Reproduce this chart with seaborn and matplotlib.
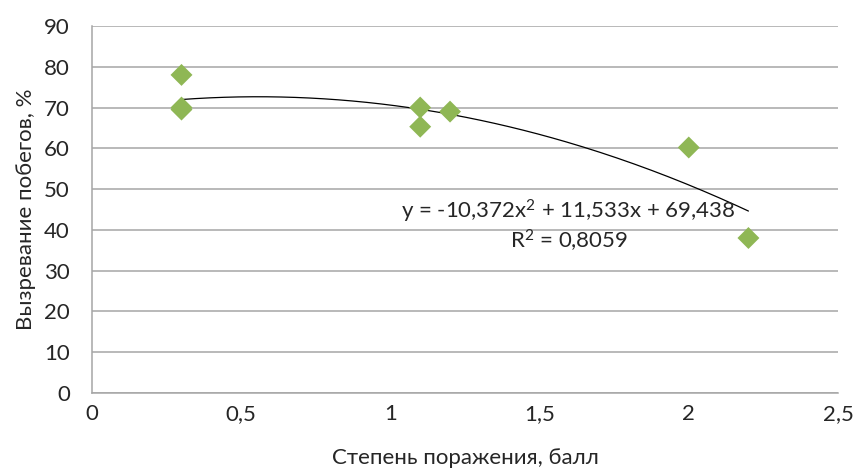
import numpy as np
import pandas as pd
import matplotlib
matplotlib.use('Agg')
import matplotlib.pyplot as plt
from matplotlib.ticker import FuncFormatter, MultipleLocator
import seaborn as sns

# data
damage = [0.3, 0.3, 0.3, 1.1, 1.1, 1.2, 2.0, 2.2]
ripening = [78.0, 69.5, 70.0, 70.0, 65.3, 69.0, 60.2, 38.0]
trend_coef = [-10.372, 11.533, 69.438]
trend_text = 'y = -10,372x$^2$ + 11,533x + 69,438'
r2_text = 'R$^2$ = 0,8059'

df = pd.DataFrame({'damage': damage, 'ripening': ripening})

sns.set_theme(style='white')
plt.rcParams['font.family'] = ['Lato', 'Noto Sans', 'DejaVu Sans']
plt.rcParams['mathtext.default'] = 'regular'

fig = plt.figure(figsize=(8.54, 4.70), dpi=100)
ax = fig.add_axes([0.1077, 0.164, 0.8735, 0.7807])

ax.yaxis.grid(True, color='#a6a6a6', linewidth=1.1)
ax.set_axisbelow(True)

xs = np.linspace(min(damage), max(damage), 200)
ax.plot(xs, np.polyval(trend_coef, xs), color='black', linewidth=0.9, zorder=2)

sns.scatterplot(data=df, x='damage', y='ripening', marker='D', s=125,
                color='#8fb755', edgecolor='none', ax=ax, zorder=3)

ax.text(1.595, 44.6, trend_text, ha='center', va='center', fontsize=16, color='#262626')
ax.text(1.598, 37.3, r2_text, ha='center', va='center', fontsize=16, color='#262626')

ax.set_xlim(0, 2.5)
ax.set_ylim(0, 90)
ax.xaxis.set_major_locator(MultipleLocator(0.5))
ax.yaxis.set_major_locator(MultipleLocator(10))
ax.xaxis.set_major_formatter(FuncFormatter(lambda v, p: f'{v:g}'.replace('.', ',')))

for side in ['top', 'right']:
    ax.spines[side].set_visible(False)
for side in ['left', 'bottom']:
    ax.spines[side].set_color('#a6a6a6')
    ax.spines[side].set_linewidth(1.1)

ax.tick_params(axis='both', length=0, labelsize=16, colors='#262626')
ax.tick_params(axis='y', pad=16)
ax.tick_params(axis='x', pad=8)
ax.set_xlabel('Степень поражения, балл', fontsize=16, color='#262626', labelpad=17)
ax.set_ylabel('Вызревание побегов, %', fontsize=16, color='#262626', labelpad=6)

fig.savefig('out.png', dpi=100)
